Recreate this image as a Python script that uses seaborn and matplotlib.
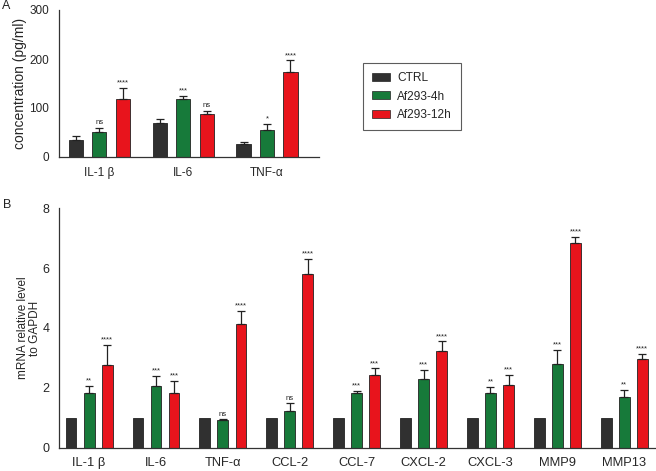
import numpy as np
import pandas as pd
import matplotlib
matplotlib.use("Agg")
import matplotlib.pyplot as plt
import seaborn as sns

# === Datos ===
groups = ["CTRL", "Af293-4h", "Af293-12h"]
palette = ["#303030", "#177a3a", "#e8141c"]

# Panel A: ELISA (pg/ml)
cyto_a = ["IL-1 β", "IL-6", "TNF-α"]
a_ctrl = [35, 69, 27]
a_4h = [50, 118, 56]
a_12h = [118, 87, 173]
a_ctrl_err = [8, 8.5, 3]
a_4h_err = [10, 6, 12]
a_12h_err = [23, 7, 24]
a_sig_4h = ["ns", "***", "*"]
a_sig_12h = ["****", "ns", "****"]

# Panel B: qPCR (relativo a GAPDH)
genes_b = ["IL-1 β", "IL-6", "TNF-α", "CCL-2", "CCL-7", "CXCL-2", "CXCL-3", "MMP9", "MMP13"]
b_ctrl = [1, 1, 1, 1, 1, 1, 1, 1, 1]
b_4h = [1.82, 2.06, 0.92, 1.24, 1.82, 2.29, 1.84, 2.80, 1.71]
b_12h = [2.77, 1.82, 4.14, 5.79, 2.43, 3.23, 2.11, 6.85, 2.97]
b_4h_err = [0.24, 0.34, 0.03, 0.24, 0.07, 0.30, 0.20, 0.46, 0.22]
b_12h_err = [0.65, 0.42, 0.42, 0.51, 0.22, 0.32, 0.31, 0.19, 0.16]
b_sig_4h = ["**", "***", "ns", "ns", "***", "***", "**", "***", "**"]
b_sig_12h = ["****", "***", "****", "****", "***", "****", "***", "****", "****"]


def long_df(cats, ctrl, h4, h12):
    rows = []
    for vals, g in zip([ctrl, h4, h12], groups):
        for c, v in zip(cats, vals):
            rows.append({"cat": c, "group": g, "value": v})
    return pd.DataFrame(rows)


def add_err(ax, bar, e):
    x = bar.get_x() + bar.get_width() / 2
    ax.errorbar(x, bar.get_height(), yerr=[[0], [e]], fmt="none", ecolor="#222222",
                elinewidth=0.9, capsize=3.2, capthick=0.9)


def draw_panel(ax, cats, ctrl, h4, h12, errs, sigs, width, sig_off, xsize, ysize):
    df = long_df(cats, ctrl, h4, h12)
    sns.barplot(data=df, x="cat", y="value", hue="group", hue_order=groups,
                palette=palette, width=width, gap=0.4, errorbar=None,
                edgecolor="#222222", linewidth=0.6, saturation=1, ax=ax)
    # barras de error (solo superior) y asteriscos
    for ci, (err, sig) in enumerate(zip(errs, sigs), start=1):
        for bar, e, s in zip(ax.containers[ci], err, sig):
            add_err(ax, bar, e)
            x = bar.get_x() + bar.get_width() / 2
            ax.text(x, bar.get_height() + e + sig_off, s, ha="center", va="bottom",
                    fontsize=5.5, color="#222222")
    ax.get_legend().remove()
    ax.set_xlabel("")
    sns.despine(ax=ax)
    for sp in ["left", "bottom"]:
        ax.spines[sp].set_linewidth(0.9)
        ax.spines[sp].set_color("#333333")
    ax.tick_params(axis="both", length=4.5, width=0.8, color="#333333", pad=2.5)
    ax.tick_params(axis="x", labelsize=xsize)
    ax.tick_params(axis="y", labelsize=ysize)


sns.set_theme(style="white")
plt.rcParams["font.family"] = ["Liberation Sans", "DejaVu Sans"]

fig = plt.figure(figsize=(6.56, 4.71), dpi=100)
ax_a = fig.add_axes([59 / 656, 1 - 157 / 471, 260 / 656, 147 / 471])
ax_b = fig.add_axes([59 / 656, 1 - 447.7 / 471, 596 / 656, 239.4 / 471])

draw_panel(ax_a, cyto_a, a_ctrl, a_4h, a_12h, [a_4h_err, a_12h_err],
           [a_sig_4h, a_sig_12h], 0.84, 3, 8.5, 8.5)
ax_a.set_ylim(0, 300)
ax_a.set_yticks([0, 100, 200, 300])
ax_a.set_xlim(-0.48, 2.62)
ax_a.set_ylabel("concentration (pg/ml)", fontsize=10, labelpad=2)
for bar, e in zip(ax_a.containers[0], a_ctrl_err):
    add_err(ax_a, bar, e)

draw_panel(ax_b, genes_b, b_ctrl, b_4h, b_12h, [b_4h_err, b_12h_err],
           [b_sig_4h, b_sig_12h], 0.81, 0.05, 9.3, 9)
ax_b.set_ylim(0, 8)
ax_b.set_yticks([0, 2, 4, 6, 8])
ax_b.set_xlim(-0.45, 8.46)
ax_b.set_ylabel("mRNA relative level\nto GAPDH", fontsize=8.5, labelpad=1,
                linespacing=0.95)

# leyenda
handles = [plt.Rectangle((0, 0), 1, 1, facecolor=c, edgecolor="#222222", linewidth=0.5)
           for c in palette]
leg = fig.legend(handles, groups, loc="upper left",
                 bbox_to_anchor=(363 / 656, 1 - 63 / 471), borderaxespad=0,
                 fontsize=8.6, frameon=True, fancybox=False, edgecolor="#333333",
                 handlelength=1.5, handleheight=0.65, labelspacing=0.55,
                 borderpad=0.75, handletextpad=0.6)
leg.get_frame().set_linewidth(0.8)

fig.text(2 / 656, 1 - 9 / 471, "A", fontsize=9, color="#222222")
fig.text(3 / 656, 1 - 208 / 471, "B", fontsize=9, color="#222222")

fig.savefig("out.png", dpi=100)
